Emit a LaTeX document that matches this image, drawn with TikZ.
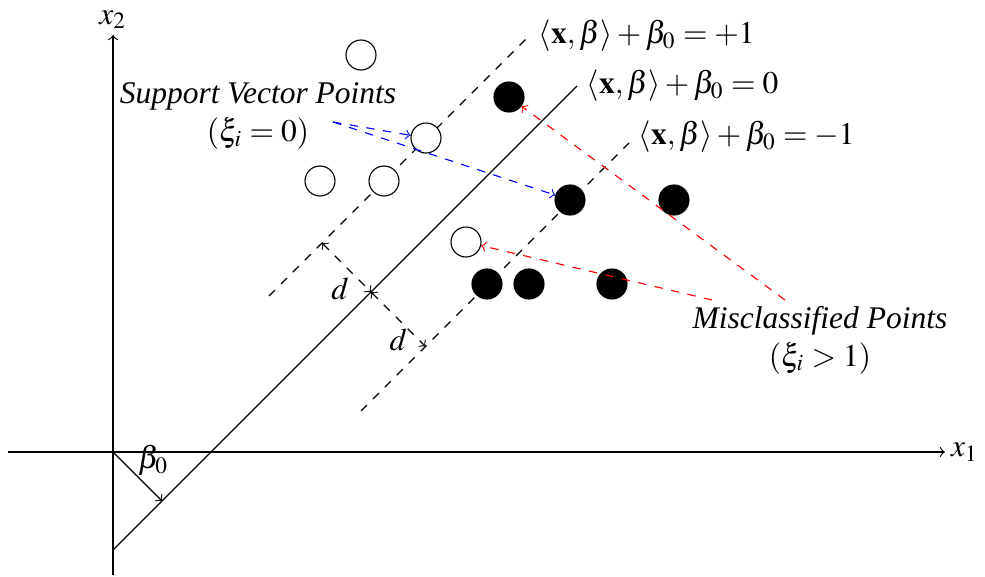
\documentclass[tikz,border=0pt]{standalone}
\usepackage{mathptmx}
\usepackage{fontspec}
\setmainfont{Liberation Serif}
\usetikzlibrary{arrows}

\begin{document}
\begin{tikzpicture}[
  every node/.style={font=\fontsize{11.2pt}{13.6pt}\selectfont},
  pt/.style={draw, circle, minimum size=0.375cm, inner sep=0pt, fill=#1},
  pt/.default=white,
  ptneg/.style={pt=black},
  margin/.style={dashed},
  hint/.style={->, dashed, draw=#1}
]
  \useasboundingbox (-1.4125,-1.5625) rectangle (10.9,5.65);

  %-- axes
  \coordinate (o) at (0,0);
  \draw[->] (-1.3125,0) -- (10.4,0) node[right, inner sep=2pt]{$x_1$};
  \draw[->] (0,-1.5375) -- (0,5.2125) node[above, inner sep=2pt]{$x_2$};

  %-- hyperplanes
  \coordinate (h0a) at (0,-1.225);
  \coordinate (h0b) at (5.8,4.575);
  \coordinate (hpa) at (1.95,1.95);
  \coordinate (hpb) at (5.2,5.2);
  \coordinate (hma) at (3.1,0.5125);
  \coordinate (hmb) at (6.45,3.8625);
  \draw (h0a) -- (h0b) node[right]{$\langle \mathbf{x}, \beta \rangle + \beta_0 = 0$};
  \draw[margin] (hpa) -- (hpb) node[right]{$\langle \mathbf{x}, \beta \rangle + \beta_0 = +1$};
  \draw[margin] (hma) -- (hmb) node[right, yshift=0.08cm]{$\langle \mathbf{x}, \beta \rangle + \beta_0 = -1$};

  %-- offset beta_0
  \coordinate (foot) at (0.6125,-0.6125);
  \draw[->] (o) -- (foot) node[midway, anchor=south west, inner sep=0pt]{$\beta_0$};

  %-- margin width
  \coordinate (mc) at (3.225,2.0);
  \coordinate (mu) at (2.6125,2.6125);
  \coordinate (ml) at (3.90625,1.31875);
  \draw[<->, dashed] (mu) -- (mc) node[midway, below, xshift=-0.08cm]{$d$};
  \draw[<->, dashed] (mc) -- (ml) node[midway, below]{$d$};

  %-- class +1
  \node[pt] (p1) at (3.1,4.9625)    {};
  \node[pt] (p2) at (3.9125,3.925)  {};
  \node[pt] (p3) at (2.5875,3.3875) {};
  \node[pt] (p4) at (3.3875,3.3875) {};
  \node[pt] (p5) at (4.4125,2.625)  {};

  %-- class -1
  \node[ptneg] (n1) at (4.95,4.4375)   {};
  \node[ptneg] (n2) at (5.7125,3.15)   {};
  \node[ptneg] (n3) at (7.0125,3.15)   {};
  \node[ptneg] (n4) at (4.675,2.1)     {};
  \node[ptneg] (n5) at (5.2,2.1)       {};
  \node[ptneg] (n6) at (6.2375,2.1)    {};

  %-- annotations
  \node[align=center] (sv) at (1.8125,4.2)
    {\textit{Support Vector Points}\\$(\xi_i = 0)$};
  \node[align=center] (mis) at (8.8375,1.4)
    {\textit{Misclassified Points}\\$(\xi_i > 1)$};

  \coordinate (svs) at (2.75,4.125);
  \coordinate (misa) at (7.4875,1.9);
  \coordinate (misb) at (8.4,1.9);
  \draw[hint=blue] (svs) -- (p2);
  \draw[hint=blue] (svs) -- (n2);
  \draw[hint=red]  (misa) -- (p5);
  \draw[hint=red]  (misb) -- (n1);
\end{tikzpicture}
\end{document}
